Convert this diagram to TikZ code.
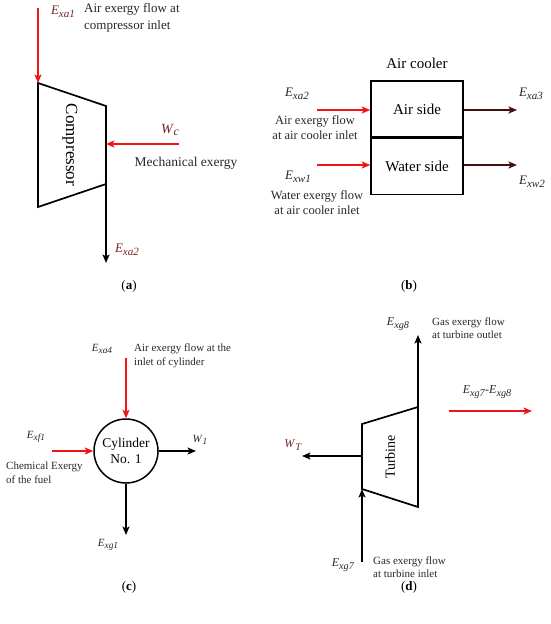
\documentclass[tikz,border=0pt]{standalone}
\usepackage{fontspec}
\setmainfont{Liberation Serif}
\usetikzlibrary{arrows.meta, positioning}
\definecolor{flowred}{RGB}{240,20,20}
\definecolor{labred}{RGB}{120,35,35}
\definecolor{outbrown}{RGB}{70,15,15}
\definecolor{txtgray}{RGB}{40,40,40}
\newcommand{\flow}[2]{\textit{#1}\raisebox{-0.45ex}{\scalebox{0.85}{\textit{#2}}}}
\newcommand{\fs}[1]{\fontsize{#1}{#1}\selectfont}

\begin{document}
\begin{tikzpicture}[
x=1pt, y=-1pt,
every node/.style={inner sep=0pt, text=txtgray},
inflow/.style={-{Stealth[length=8.5pt,width=7pt,inset=2pt]}, draw=flowred, line width=1.6pt},
outflow/.style={-{Stealth[length=8.5pt,width=7pt,inset=2pt]}, line width=1.6pt},
body/.style={line width=1.7pt, line join=miter},
]
\useasboundingbox (0,0) rectangle (550,624);

% (a) Compressor
\coordinate (cTL) at (38,83);
\coordinate (cTR) at (106,106);
\coordinate (cBR) at (106,184);
\coordinate (cBL) at (38,207);
\coordinate (cR) at (106,144);
\coordinate (a1) at (38,8);
\coordinate (wc) at (179,144);
\coordinate (a2) at (106,263);
\draw[body] (cTL) -- (cTR) -- (cBR) -- (cBL) -- cycle;
\node[rotate=-90, text=black, font=\fs{17}] (comp) at (70,145) {Compressor};

% Arrows
\draw[inflow] (a1) -- (cTL);
\draw[inflow] (wc) -- (cR);
\draw[outflow] (cBR) -- (a2);

\node[text=labred, font=\fs{13}] (Exa1) at (63,12) {\flow{E}{xa1}};
\node[anchor=west, align=left, font=\fontsize{13}{17}\selectfont] (Ta1) at (84,18) {Air exergy flow at\\compressor inlet};
\node[text=labred, font=\fs{14}] (Wc) at (170,130) {\flow{W}{c}};
\node[font=\fs{13.5}] (Tmech) at (186,163) {Mechanical exergy};
\node[text=labred, font=\fs{13}] (Exa2) at (127,250) {\flow{E}{xa2}};
\node[text=black, font=\fs{13}] (capa) at (129,286) {(\textbf{a})};

% (b) Air cooler
\node[draw, line width=1.5pt, minimum width=92pt, minimum height=56pt, text=black, font=\fs{15}] (air) at (417,109) {Air side};
\node[draw, line width=1.5pt, minimum width=92pt, minimum height=56pt, text=black, font=\fs{15}, below=0pt of air] (water) {Water side};
\node[text=black, font=\fs{15}, above=11pt of air] (Tcool) {Air cooler};
\coordinate (b1) at (317,110);
\coordinate (b2) at (317,165);
\coordinate (b3) at (517,110);
\coordinate (b4) at (517,165);

% Arrows
\draw[inflow] (b1) -- (b1 -| air.west);
\draw[inflow] (b2) -- (b2 -| water.west);
\draw[outflow, draw=outbrown] (b3 -| air.east) -- (b3);
\draw[outflow, draw=outbrown] (b4 -| water.east) -- (b4);

\node[font=\fs{13}] (Exa2b) at (297,94) {\flow{E}{xa2}};
\node[align=center, font=\fontsize{12.5}{15}\selectfont] (Tb1) at (315,128) {Air exergy flow\\at air cooler inlet};
\node[font=\fs{13}] (Exw1) at (298,177) {\flow{E}{xw1}};
\node[align=center, font=\fontsize{12.5}{15}\selectfont] (Tb2) at (317,203) {Water exergy flow\\at air cooler inlet};
\node[font=\fs{13}] (Exa3) at (531,94) {\flow{E}{xa3}};
\node[font=\fs{13}] (Exw2) at (532,182) {\flow{E}{xw2}};
\node[text=black, font=\fs{13}] (capb) at (409,286) {(\textbf{b})};

% (c) Cylinder
\node[draw, circle, minimum size=64pt, line width=1.5pt, align=center, text=black, font=\fontsize{13.5}{16}\selectfont] (cyl) at (126,451) {Cylinder\\No. 1};
\coordinate (c4) at (126,358);
\coordinate (cf) at (52,451);
\coordinate (cw) at (196,451);
\coordinate (cg) at (126,535);

% Arrows
\draw[inflow, line width=1.4pt] (c4) -- (cyl.north);
\draw[inflow, line width=1.4pt] (cf) -- (cyl.west);
\draw[outflow, line width=1.4pt] (cyl.east) -- (cw);
\draw[outflow, line width=1.4pt] (cyl.south) -- (cg);

\node[font=\fs{11}] (Exa4) at (102,349) {\flow{E}{xa4}};
\node[anchor=west, align=left, font=\fontsize{11}{14}\selectfont] (Tc1) at (134,356) {Air exergy flow at the\\inlet of cylinder};
\node[font=\fs{11}] (Exf1) at (36,437) {\flow{E}{xf1}};
\node[anchor=west, align=left, font=\fontsize{11}{14}\selectfont] (Tc2) at (6,473) {Chemical Exergy\\of the fuel};
\node[font=\fs{11}] (W1) at (200,440) {\flow{W}{1}};
\node[font=\fs{11}] (Exg1) at (108,545) {\flow{E}{xg1}};
\node[text=black, font=\fs{13}] (capc) at (129,587) {(\textbf{c})};

% (d) Turbine
\coordinate (tTL) at (362,424);
\coordinate (tTR) at (418,407);
\coordinate (tBR) at (418,507);
\coordinate (tBL) at (362,489);
\coordinate (tL) at (362,456);
\coordinate (g8) at (418,335);
\coordinate (wt) at (302,456);
\coordinate (g7) at (362,562);
\coordinate (d1) at (449,411);
\coordinate (d2) at (532,411);
\draw[body] (tTL) -- (tTR) -- (tBR) -- (tBL) -- cycle;
\node[rotate=90, text=black, font=\fs{14}] (turb) at (390,457) {Turbine};

% Arrows
\draw[outflow] (tTR) -- (g8);
\draw[outflow] (tL) -- (wt);
\draw[outflow] (g7) -- (tBL);
\draw[inflow] (d1) -- (d2);

\node[font=\fs{12}] (Exg8) at (398,324) {\flow{E}{xg8}};
\node[anchor=west, align=left, font=\fontsize{11}{13.5}\selectfont] (Td1) at (432,328) {Gas exergy flow\\at turbine outlet};
\node[font=\fs{12}] (Ediff) at (487,392) {\flow{E}{xg7}-\flow{E}{xg8}};
\node[text=labred, font=\fs{12}] (WT) at (293,445) {\flow{W}{T}};
\node[font=\fs{12}] (Exg7) at (343,565) {\flow{E}{xg7}};
\node[anchor=west, align=left, font=\fontsize{11}{13}\selectfont] (Td2) at (373,567) {Gas exergy flow\\at turbine inlet};
\node[text=black, font=\fs{13}] (capd) at (409,587) {(\textbf{d})};

\end{tikzpicture}
\end{document}
